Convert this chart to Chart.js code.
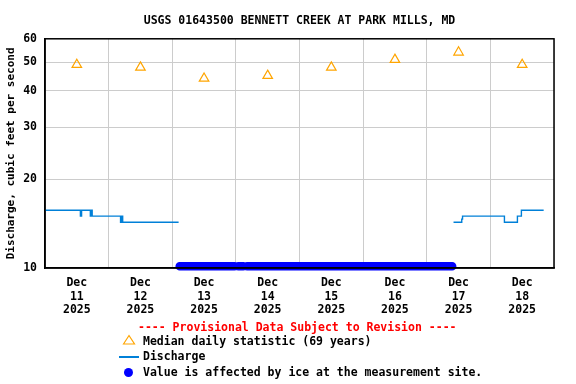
<!DOCTYPE html>
<html>
<head>
<meta charset="utf-8">
<script src="https://cdn.jsdelivr.net/npm/chart.js@4/dist/chart.umd.min.js"></script>
<style>
  body { margin: 0; background: #fff; }
  #wrap { position: relative; width: 576px; height: 384px; }
  #wrap canvas { position: absolute; left: 0; top: 0; }
  .txt { position: absolute; font: bold 11.5px "DejaVu Sans Mono", monospace; line-height: 12px; white-space: pre; color: #000; }
  .red { color: #ff0000; }
</style>
</head>
<body>
<div id="wrap">
  <canvas id="chart" width="576" height="384"></canvas>
  <div class="txt red" style="left:138px; top:321px;">---- Provisional Data Subject to Revision ----</div>
  <svg style="position:absolute; left:122px; top:334px;" width="14" height="12">
    <polygon points="1.5,10 7,1.5 12.5,10" fill="none" stroke="#ffa500" stroke-width="1.2"/>
  </svg>
  <div class="txt" style="left:143px; top:335px;">Median daily statistic (69 years)</div>
  <div style="position:absolute; left:119px; top:356px; width:20px; height:1.5px; background:#0080d8;"></div>
  <div class="txt" style="left:143px; top:350px;">Discharge</div>
  <div style="position:absolute; left:124px; top:368px; width:9px; height:9px; border-radius:50%; background:#0000ff;"></div>
  <div class="txt" style="left:143px; top:366px;">Value is affected by ice at the measurement site.</div>
</div>
<script>
// hours counted from Dec 11 2025 00:00
const dayLabels = ['11', '12', '13', '14', '15', '16', '17', '18'];
const yTicks = [10, 20, 30, 40, 50, 60];

const medianHours = [12, 36, 60, 84, 108, 132, 156, 180];
const medianCfs = [49, 48, 44, 45, 48, 51, 54, 49];

// discharge, step changes (value holds until next point)
const flowHours1 = [0, 13.35, 13.8, 17.1, 17.5, 17.8, 28.5, 28.9, 29.3, 50.4];
const flowCfs1 = [15.7, 15.0, 15.7, 15.0, 15.7, 15.0, 14.3, 15.0, 14.3, 14.3];
const flowHours2 = [154.1, 157.2, 157.5, 173.3, 178.2, 179.7, 188.1];
const flowCfs2 = [14.3, 14.65, 15.0, 14.3, 15.0, 15.7, 15.7];

// ice-affected periods (start, end)
const iceStart = [50.8, 72.9, 76.2];
const iceEnd = [71.5, 74.8, 153.6];
const iceLevel = 10.13;

const font = { family: 'DejaVu Sans Mono', size: 11.5, weight: 'bold' };

function pairs(xs, ys) {
  return xs.map((x, i) => ({ x: x, y: ys[i] }));
}

let flowData = pairs(flowHours1, flowCfs1);
flowData.push({ x: (flowHours1[flowHours1.length - 1] + flowHours2[0]) / 2, y: null });
flowData = flowData.concat(pairs(flowHours2, flowCfs2));

let iceData = [];
iceStart.forEach((s, i) => {
  if (i > 0) iceData.push({ x: s - 0.01, y: null });
  iceData.push({ x: s, y: iceLevel });
  iceData.push({ x: iceEnd[i], y: iceLevel });
});

const frame = {
  id: 'frame',
  afterDatasetsDraw(chart) {
    const a = chart.chartArea;
    const c = chart.ctx;
    c.save();
    c.strokeStyle = '#000';
    c.lineWidth = 1.5;
    c.strokeRect(a.left, a.top, a.right - a.left, a.bottom - a.top);
    c.restore();
  }
};

const ctx = document.getElementById('chart').getContext('2d');
new Chart(ctx, {
  type: 'line',
  data: {
    datasets: [
      {
        label: 'Value is affected by ice at the measurement site.',
        data: iceData,
        borderColor: '#0000ff',
        borderWidth: 8.5,
        borderCapStyle: 'round',
        pointRadius: 0,
        spanGaps: false,
        clip: false
      },
      {
        label: 'Discharge',
        data: flowData,
        borderColor: '#0080d8',
        borderWidth: 1.4,
        stepped: true,
        pointRadius: 0,
        spanGaps: false
      },
      {
        label: 'Median daily statistic (69 years)',
        data: pairs(medianHours, medianCfs),
        showLine: false,
        pointStyle: 'triangle',
        pointRadius: 5.5,
        pointBorderWidth: 1.2,
        pointBorderColor: '#ffa500',
        pointBackgroundColor: 'rgba(0,0,0,0)'
      }
    ]
  },
  options: {
    responsive: false,
    animation: false,
    events: [],
    layout: { padding: { left: 0, right: 22, top: 0, bottom: 0 } },
    plugins: {
      legend: { display: false },
      tooltip: { enabled: false },
      title: {
        display: true,
        fullSize: false,
        text: 'USGS 01643500 BENNETT CREEK AT PARK MILLS, MD',
        color: '#000',
        font: font,
        padding: { top: 14, bottom: 11 }
      }
    },
    scales: {
      x: {
        type: 'linear',
        min: 0,
        max: 192,
        afterBuildTicks: (scale) => {
          scale.ticks = [];
          for (let h = 0; h <= 192; h += 12) scale.ticks.push({ value: h });
        },
        afterFit: (scale) => { scale.height = 116; },
        grid: {
          drawTicks: false,
          lineWidth: 1,
          color: (c) => (c.tick && c.tick.value % 24 === 0) ? '#cccccc' : 'rgba(0,0,0,0)'
        },
        border: { color: '#000', width: 1.5, z: 1 },
        ticks: {
          autoSkip: false,
          maxRotation: 0,
          padding: 8,
          color: '#000',
          font: font,
          callback: (v) => v % 24 === 12 ? ['Dec', dayLabels[(v - 12) / 24], '2025'] : ''
        }
      },
      y: {
        type: 'logarithmic',
        min: 10,
        max: 60,
        afterBuildTicks: (scale) => {
          scale.ticks = yTicks.map(v => ({ value: v }));
        },
        afterFit: (scale) => { scale.width = 45; },
        grid: { drawTicks: false, color: '#cccccc', lineWidth: 1 },
        border: { color: '#000', width: 1.5 },
        ticks: {
          padding: 8,
          color: '#000',
          font: font,
          callback: (v) => String(v)
        },
        title: {
          display: true,
          text: 'Discharge, cubic feet per second',
          color: '#000',
          font: { family: 'DejaVu Sans Mono', size: 11, weight: 'bold' },
          padding: { top: 5, bottom: 0 }
        }
      }
    }
  },
  plugins: [frame]
});
</script>
</body>
</html>
